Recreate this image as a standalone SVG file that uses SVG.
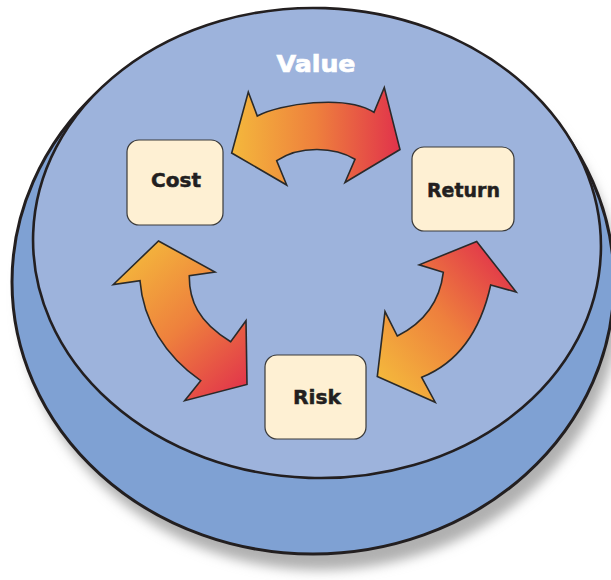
<svg xmlns="http://www.w3.org/2000/svg" width="611" height="580" viewBox="0 0 611 580">
  <defs>
    <style>
      .node rect { fill: #FEF0D3; stroke: #3a3a3a; stroke-width: 1.2; }
      .node text { font-family: "DejaVu Sans", "Liberation Sans", sans-serif; font-weight: bold; font-size: 20px; fill: #231f20; stroke: #231f20; stroke-width: 0.5; text-anchor: middle; }
      .arrow { stroke: #2a2a2a; stroke-width: 1.6; stroke-linejoin: miter; }
      .disc { stroke: #231f20; }
    </style>
    <filter id="blur" x="-10%" y="-10%" width="120%" height="120%">
      <feGaussianBlur stdDeviation="6"/>
    </filter>
    <linearGradient id="gTop" gradientUnits="userSpaceOnUse" x1="232" y1="130" x2="400" y2="130">
      <stop offset="0" stop-color="#F4B83C"/>
      <stop offset="0.5" stop-color="#EE803D"/>
      <stop offset="1" stop-color="#E1324B"/>
    </linearGradient>
    <linearGradient id="gLeft" gradientUnits="userSpaceOnUse" x1="125" y1="255" x2="248" y2="390">
      <stop offset="0" stop-color="#F4B83C"/>
      <stop offset="0.5" stop-color="#EE803D"/>
      <stop offset="1" stop-color="#E1324B"/>
    </linearGradient>
    <linearGradient id="gRight" gradientUnits="userSpaceOnUse" x1="380" y1="380" x2="512" y2="262">
      <stop offset="0" stop-color="#F4B83C"/>
      <stop offset="0.5" stop-color="#EE803D"/>
      <stop offset="1" stop-color="#E1324B"/>
    </linearGradient>
  </defs>

  <g id="disc">
    <ellipse cx="320" cy="298" rx="300" ry="272" fill="#b0b0b0" filter="url(#blur)"/>
    <ellipse class="disc" cx="313" cy="282" rx="301" ry="272" fill="#7FA1D3" stroke-width="3"/>
    <ellipse class="disc" cx="317" cy="243" rx="284" ry="235" fill="#9DB3DC" stroke-width="2.6" transform="rotate(2 317 243)"/>
    <text x="316" y="72" font-family="DejaVu Sans, Liberation Sans, sans-serif" font-weight="bold" font-size="23" fill="#ffffff" stroke="#ffffff" stroke-width="0.7" text-anchor="middle" textLength="79" lengthAdjust="spacingAndGlyphs">Value</text>
  </g>

  <g id="connectors">
    <path class="arrow" fill="url(#gTop)" d="M 231.7,153 L 248.3,92 L 257.3,116 C 280,104 345,94 374,112.3 L 384.3,87.5 L 400,149.5 L 345,182.5 L 355,159.3 C 335,147 300,145 276.7,160.7 L 286.7,185 Z"/>
    <path class="arrow" fill="url(#gLeft)" d="M 158.5,241 L 215,272 L 189.3,275.7 C 189,300 198,322 230.7,341.7 L 246,320.7 L 247,384.5 L 184.7,400.7 L 200.7,380.7 C 165,356 143,320 140,280.7 L 113.3,284.5 Z"/>
    <path class="arrow" fill="url(#gRight)" d="M 476.7,241.5 L 516.2,292 L 490.7,285 C 483,320 465,360 421.7,377.3 L 435.2,402.2 L 377.3,376.5 L 385,311.6 L 397.3,336 C 425,322 440,300 443.3,272.3 L 419.2,264.8 Z"/>
  </g>

  <g id="node-cost" class="node">
    <rect x="127" y="140" width="96" height="85" rx="12"/>
    <text x="176" y="187" textLength="50" lengthAdjust="spacingAndGlyphs">Cost</text>
  </g>
  <g id="node-return" class="node">
    <rect x="412" y="147" width="102" height="84" rx="12"/>
    <text x="463.5" y="197" textLength="73" lengthAdjust="spacingAndGlyphs">Return</text>
  </g>
  <g id="node-risk" class="node">
    <rect x="265" y="355" width="101" height="84" rx="12"/>
    <text x="317" y="403.5" textLength="48" lengthAdjust="spacingAndGlyphs">Risk</text>
  </g>
</svg>
